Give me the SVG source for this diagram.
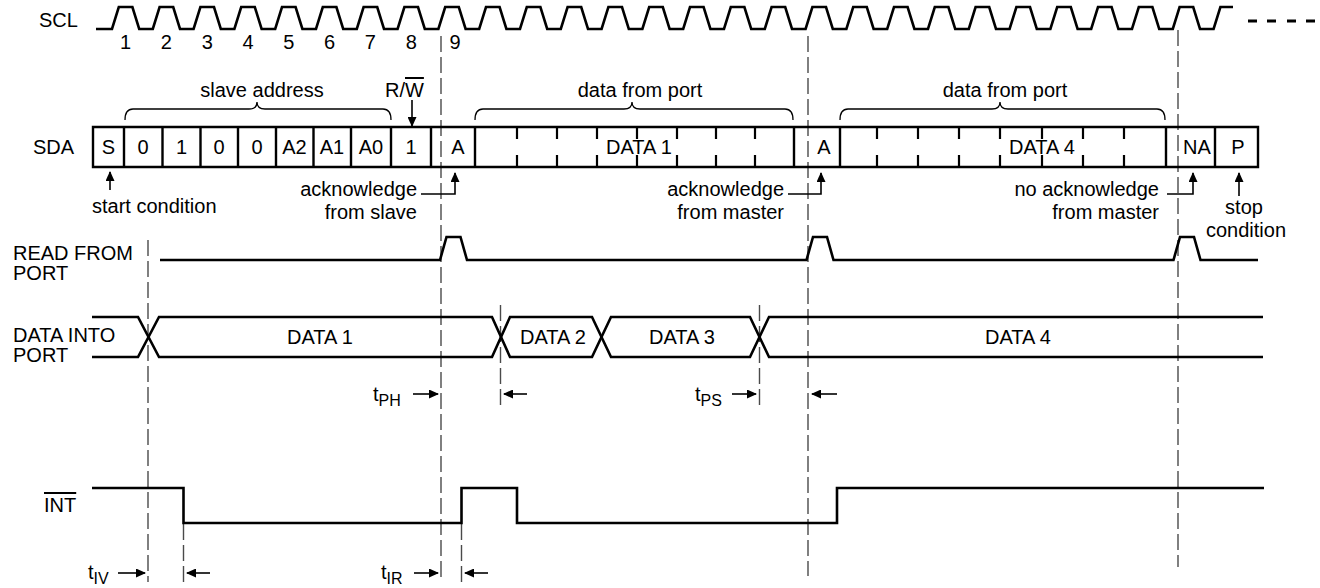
<svg xmlns="http://www.w3.org/2000/svg" width="1320" height="588" viewBox="0 0 1320 588">
<style>
.w{fill:none;stroke:#000;stroke-width:2.6;stroke-linejoin:miter;stroke-linecap:butt}
.b{fill:none;stroke:#000;stroke-width:2.4}
.k{fill:none;stroke:#000;stroke-width:2.2}
.d{fill:none;stroke:#4a4a4a;stroke-width:1.4;stroke-dasharray:16 5}
.br{fill:none;stroke:#000;stroke-width:1.3}
.a{fill:none;stroke:#000;stroke-width:1.6;marker-end:url(#ah)}
text{font-family:"Liberation Sans",Arial,Helvetica,sans-serif;font-size:20px;fill:#000}
.m{text-anchor:middle}
.e{text-anchor:end}
.s{font-size:16px}
</style>
<defs>
<marker id="ah" markerUnits="userSpaceOnUse" markerWidth="10" markerHeight="9" refX="9" refY="4.5" orient="auto">
<path d="M0,0 L10,4.5 L0,9 z" fill="#000"/>
</marker>
</defs>
<rect width="1320" height="588" fill="#fff"/>

<g id="connectors">
<line class="d" x1="148" y1="240" x2="148" y2="582"/>
<line class="d" x1="183.5" y1="524" x2="183.5" y2="582"/>
<line class="d" x1="441" y1="36" x2="441" y2="582"/>
<line class="d" x1="461.5" y1="524" x2="461.5" y2="582"/>
<line class="d" x1="500.5" y1="305" x2="500.5" y2="408"/>
<line class="d" x1="759.5" y1="305" x2="759.5" y2="408"/>
<line class="d" x1="808" y1="36" x2="808" y2="576"/>
<line class="d" x1="1178" y1="30" x2="1178" y2="567"/>
<path class="a" d="M412,100 V126"/>
<path class="a" d="M110,190 V172"/>
<path class="a" d="M421,194 H455 V173"/>
<path class="a" d="M788,194 H821 V173"/>
<path class="a" d="M1167,194 H1193 V173"/>
<path class="a" d="M1239,196 V173"/>
<path class="a" d="M413,394 H438"/>
<path class="a" d="M527,394 H504"/>
<path class="a" d="M732,394 H756"/>
<path class="a" d="M837,394 H812"/>
<path class="a" d="M118,573 H145"/>
<path class="a" d="M210,573 H187"/>
<path class="a" d="M414,573 H438"/>
<path class="a" d="M488,573 H465"/>
</g>

<g id="scl">
<text x="39" y="27">SCL</text>
<path class="w" d="M96,29 H112
l6.8,-22 h13.6 l6.8,22 h13.6 l6.8,-22 h13.6 l6.8,22 h13.6 l6.8,-22 h13.6 l6.8,22 h13.6
l6.8,-22 h13.6 l6.8,22 h13.6 l6.8,-22 h13.6 l6.8,22 h13.6 l6.8,-22 h13.6 l6.8,22 h13.6
l6.8,-22 h13.6 l6.8,22 h13.6 l6.8,-22 h13.6 l6.8,22 h13.6 l6.8,-22 h13.6 l6.8,22 h13.6
l6.8,-22 h13.6 l6.8,22 h13.6 l6.8,-22 h13.6 l6.8,22 h13.6 l6.8,-22 h13.6 l6.8,22 h13.6
l6.8,-22 h13.6 l6.8,22 h13.6 l6.8,-22 h13.6 l6.8,22 h13.6 l6.8,-22 h13.6 l6.8,22 h13.6
l6.8,-22 h13.6 l6.8,22 h13.6 l6.8,-22 h13.6 l6.8,22 h13.6 l6.8,-22 h13.6 l6.8,22 h13.6
l6.8,-22 h13.6 l6.8,22 h13.6 l6.8,-22 h13.6 l6.8,22 h13.6 l6.8,-22 h13.6 l6.8,22 h13.6
l6.8,-22 h13.6 l6.8,22 h13.6 l6.8,-22 h13.6 l6.8,22 h13.6 l6.8,-22 h13.6 l6.8,22 h13.6
l6.8,-22 h13.6 l6.8,22 h13.6 l6.8,-22 h13.6 l6.8,22 h13.6 l6.8,-22 h13.6 l6.8,22 h13.6
l6.8,-22 h12.6"/>
<path d="M1248,21 h9 M1267,21 h9 M1287,21 h9 M1306,21 h9" stroke="#000" stroke-width="3" fill="none"/>
<text class="m" x="125.6" y="48.5">1</text>
<text class="m" x="166.4" y="48.5">2</text>
<text class="m" x="207.2" y="48.5">3</text>
<text class="m" x="248" y="48.5">4</text>
<text class="m" x="288.8" y="48.5">5</text>
<text class="m" x="329.6" y="48.5">6</text>
<text class="m" x="370.4" y="48.5">7</text>
<text class="m" x="411.2" y="48.5">8</text>
<text class="m" x="455" y="48.5">9</text>
</g>

<g id="sda">
<text x="33" y="154">SDA</text>
<path class="b" d="M93,127 H1258 V167 H93 Z"/>
<path class="b" d="M124,127 V167 M162.5,127 V167 M200.5,127 V167 M238,127 V167 M276,127 V167 M313.5,127 V167 M351,127 V167 M391,127 V167 M431,127 V167 M475,127 V167 M794,127 V167 M840,127 V167 M1166,127 V167 M1215,127 V167"/>
<path class="k" d="M517,127 V139 M517,155 V167 M557,127 V139 M557,155 V167 M597,127 V139 M597,155 V167 M637,127 V139 M637,155 V167 M677,127 V139 M677,155 V167 M716,127 V139 M716,155 V167 M755,127 V139 M755,155 V167"/>
<path class="k" d="M877,127 V139 M877,155 V167 M918,127 V139 M918,155 V167 M959,127 V139 M959,155 V167 M1000,127 V139 M1000,155 V167 M1042,127 V139 M1042,155 V167 M1083,127 V139 M1083,155 V167 M1124,127 V139 M1124,155 V167"/>
<text class="m" x="108.5" y="154">S</text>
<text class="m" x="143" y="154">0</text>
<text class="m" x="181.5" y="154">1</text>
<text class="m" x="219" y="154">0</text>
<text class="m" x="257" y="154">0</text>
<text class="m" x="294.5" y="154">A2</text>
<text class="m" x="332" y="154">A1</text>
<text class="m" x="371" y="154">A0</text>
<text class="m" x="411" y="154">1</text>
<text class="m" x="458" y="154">A</text>
<text class="m" x="639" y="154">DATA 1</text>
<text class="m" x="824" y="154">A</text>
<text class="m" x="1042" y="154">DATA 4</text>
<text class="m" x="1197" y="154">NA</text>
<text class="m" x="1238" y="154">P</text>
</g>

<g id="annotations">
<path class="br" d="M125,120 Q125,109 133,109 H249 Q257,109 257,102 Q257,109 265,109 H383 Q391,109 391,120"/>
<text class="m" x="262" y="97">slave address</text>
<text x="385" y="97">R/<tspan text-decoration="overline">W</tspan></text>
<path class="br" d="M475,120 Q475,109 483,109 H624 Q632,109 632,102 Q632,109 640,109 H785 Q793,109 793,120"/>
<text class="m" x="640" y="97">data from port</text>
<path class="br" d="M840,120 Q840,109 848,109 H992 Q1000,109 1000,102 Q1000,109 1008,109 H1157 Q1165,109 1165,120"/>
<text class="m" x="1005" y="97">data from port</text>
<text x="92" y="213">start condition</text>
<text class="e" x="417" y="196">acknowledge</text>
<text class="e" x="417" y="219">from slave</text>
<text class="e" x="784" y="196">acknowledge</text>
<text class="e" x="784" y="219">from master</text>
<text class="e" x="1159" y="196">no acknowledge</text>
<text class="e" x="1159" y="219">from master</text>
<text class="m" x="1244" y="214">stop</text>
<text class="m" x="1246" y="237">condition</text>
</g>

<g id="read-from-port">
<text x="13" y="260">READ FROM</text>
<text x="13" y="280">PORT</text>
<path class="w" d="M160,260 H440 L446.5,237 H460.5 L467,260 H806.5 L813,237 H827 L833.5,260 H1173.5 L1180,237 H1194 L1200.5,260 H1258"/>
</g>

<g id="data-into-port">
<text x="13" y="342">DATA INTO</text>
<text x="13" y="362">PORT</text>
<path class="w" d="M92,317 H138 L159,357 H492 L510,317 H592 L611,357 H750 L769,317 H1263"/>
<path class="w" d="M92,357 H138 L159,317 H492 L510,357 H592 L611,317 H750 L769,357 H1263"/>
<text class="m" x="320" y="344">DATA 1</text>
<text class="m" x="553" y="344">DATA 2</text>
<text class="m" x="682" y="344">DATA 3</text>
<text class="m" x="1018" y="344">DATA 4</text>
<text x="373" y="401">t<tspan class="s" dy="5">PH</tspan></text>
<text x="695" y="401">t<tspan class="s" dy="5">PS</tspan></text>
</g>

<g id="int">
<text x="44" y="512" text-decoration="overline">INT</text>
<path class="w" d="M92,488 H183.5 V523 H461.5 V488 H517 V523 H837 V488 H1264"/>
<text x="88" y="579">t<tspan class="s" dy="5">IV</tspan></text>
<text x="381" y="579">t<tspan class="s" dy="5">IR</tspan></text>
</g>
</svg>
